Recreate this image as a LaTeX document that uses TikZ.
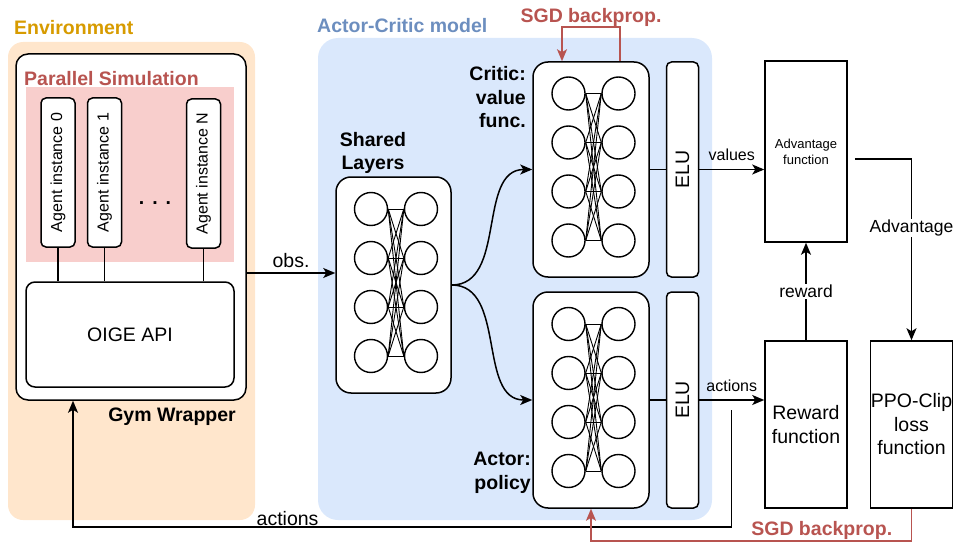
\documentclass[tikz,border=0pt]{standalone}
\usepackage{fontspec}
\setmainfont{Liberation Sans}
\usetikzlibrary{positioning,arrows.meta}

\definecolor{envfill}{HTML}{FFE6CC}
\definecolor{envtext}{HTML}{D79B00}
\definecolor{acfill}{HTML}{DAE8FC}
\definecolor{actext}{HTML}{6C8EBF}
\definecolor{simfill}{HTML}{F8CECC}
\definecolor{simtext}{HTML}{B85450}

\tikzset{
	box/.style={draw, fill=white, line width=1.5pt, inner sep=0pt, align=center},
	neuron/.style={draw, circle, fill=white, line width=1.4pt, minimum size=33pt, inner sep=0pt},
	title/.style={font=\fontsize{19.5}{23.5}\selectfont\bfseries, inner sep=0pt},
	smalltext/.style={font=\fontsize{16}{19}\selectfont},
	arr/.style={line width=1.5pt, -{Stealth[length=12pt,width=10pt,inset=3pt]}},
	sgd/.style={arr, draw=simtext}
}

\begin{document}
\begin{tikzpicture}[x=1pt, y=-1pt, font=\fontsize{19.5}{23.5}\selectfont]
				\useasboundingbox (0,0) rectangle (954,543);

				\node[fill=envfill, rounded corners=15pt, minimum width=247pt, minimum height=478pt] (env) at (131.5,281) {};
				\node[fill=acfill, rounded corners=20pt, minimum width=394pt, minimum height=482pt] (acmodel) at (515,279) {};
				\node[title, text=envtext, anchor=base west] (envlbl) at (14,35) {Environment};
				\node[title, text=actext, anchor=base west] (aclbl) at (317,33) {Actor-Critic model};

				\node[box, rounded corners=12pt, minimum width=230pt, minimum height=346pt] (gym) at (131,227) {};
				\node[title, anchor=base east] (gymlbl) at (236,421) {Gym Wrapper};
				\node[fill=simfill, minimum width=208pt, minimum height=175pt] (sim) at (130,174.5) {};
				\node[title, text=simtext, anchor=base west] (simlbl) at (24,85) {Parallel Simulation};
				\node[box, rounded corners=5pt, minimum width=34pt, minimum height=149pt, smalltext] (ag0) at (58,172.5) {\rotatebox{90}{Agent instance 0}};
				\node[box, rounded corners=5pt, minimum width=34pt, minimum height=149pt, smalltext] (ag1) at (104.5,172.5) {\rotatebox{90}{Agent instance 1}};
				\node[box, rounded corners=5pt, minimum width=34pt, minimum height=149pt, smalltext] (agN) at (203.5,173.5) {\rotatebox{90}{Agent instance N}};
				\node (dots) at (155,203) {\textbf{.\hspace{8pt}.\hspace{8pt}.}};
				\node[box, rounded corners=9pt, minimum width=208pt, minimum height=105pt] (oige) at (130,334.5) {OIGE API};

				\node[box, rounded corners=15pt, minimum width=115pt, minimum height=216pt] (shared) at (393.5,285) {};
				\node[title, align=center] (sharedlbl) at (373,153) {Shared\\Layers};
				\node[box, rounded corners=15pt, minimum width=116pt, minimum height=215pt] (critic) at (591,169.5) {};
				\node[box, rounded corners=15pt, minimum width=116pt, minimum height=216pt] (actor) at (591,400) {};
				\node[title, align=right, anchor=east] (criticlbl) at (526,97.5) {Critic:\\value\\func.};
				\node[title, align=right, anchor=east] (actorlbl) at (531,473) {Actor:\\policy};
				\node[box, rounded corners=5pt, minimum width=32pt, minimum height=215pt, right=16pt of critic] (criticelu) {\rotatebox{90}{ELU}};
				\node[box, rounded corners=5pt, minimum width=32pt, minimum height=216pt, right=16pt of actor] (actorelu) {\rotatebox{90}{ELU}};

				\node[box, minimum width=82pt, minimum height=181pt, font=\fontsize{13}{16}\selectfont] (adv) at (806,151.5) {Advantage\\function};
				\node[box, minimum width=82pt, minimum height=167pt] (reward) at (806,424.5) {Reward\\function};
				\node[box, minimum width=82pt, minimum height=167pt, right=22pt of reward] (ppo) {PPO-Clip\\loss\\function};

				\foreach \n in {shared,critic,actor}{
					\foreach \i in {1,...,4}{
						\node[neuron] (\n-l\i) at ([shift={(-22.5,-125+49*\i)}]\n.center) {};
						\node[neuron] (\n-r\i) at ([shift={(27.5,-125+49*\i)}]\n.center) {};
					}
					\foreach \i in {1,...,4}
						\foreach \j in {1,...,4}
							\draw[line width=0.9pt] (\n-l\i.east) -- (\n-r\j.west);
				}

				\coordinate (obsin) at ([yshift=12pt]shared.west);
				\coordinate (actfork) at ([shift={(32,10)}]actorelu.east);
				\coordinate (gymin) at ([xshift=-58pt]gym.south);

				\draw[line width=1.5pt] (ag0) -- (ag0 |- oige.north) (ag1) -- (ag1 |- oige.north) (agN) -- (agN |- oige.north);
				\draw[line width=1.5pt] (critic) -- (criticelu) (actor) -- (actorelu);
				\draw[arr] (gym.east |- obsin) -- node[above=5pt, inner sep=0pt] {obs.} (obsin);
				\draw[arr] (shared.east) to[out=0, in=180] (critic.west);
				\draw[arr] (shared.east) to[out=0, in=180] (actor.west);
				\draw[arr] (criticelu) -- node[above=8pt, inner sep=0pt, smalltext] {values} (criticelu -| adv.west);
				\draw[arr] (actorelu) -- node[above=8pt, inner sep=0pt, smalltext] {actions} (actorelu -| reward.west);
				\draw[arr] (reward) -- node[fill=white, inner sep=1pt, font=\fontsize{17.5}{21}\selectfont] {reward} (adv);
				\draw[arr] ([shift={(7,7.5)}]adv.east) -| node[pos=0.69, fill=white, inner sep=1pt, font=\fontsize{17.5}{21}\selectfont] {Advantage} (ppo.north);
				\draw[arr] (actfork) -- ++(0,117) -| node[pos=0.337, above, inner sep=1pt] {actions} (gymin);
				\draw[sgd] ([xshift=29pt]critic.north) -- ++(0,-34) -| node[pos=0.25, above, title, text=simtext] {SGD backprop.} ([xshift=-29pt]critic.north);
				\draw[sgd] (ppo.south) -- ++(0,32) -| node[pos=0.14, above, title, text=simtext] {SGD backprop.} (actor.south);

			\end{tikzpicture}
\end{document}
